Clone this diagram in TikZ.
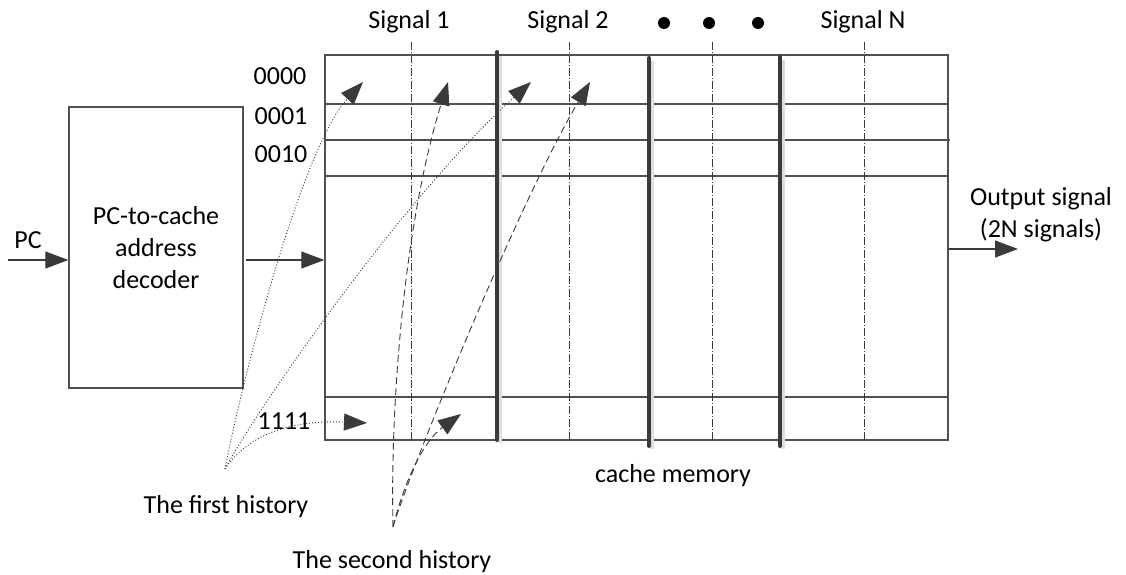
\documentclass[tikz,border=0pt]{standalone}
\usepackage{fontspec}
\setmainfont{Carlito}
\usetikzlibrary{arrows.meta,calc}
\definecolor{ln}{HTML}{505050}
\definecolor{dk}{HTML}{3A3A3A}
\definecolor{sh}{HTML}{DDDDDD}
\tikzset{
  lbl/.style={font=\fontsize{26}{32}\selectfont, inner sep=0pt, text=black},
  box/.style={draw=ln, line width=1.3pt, inner sep=0pt},
  cell/.style={draw=ln, line width=1.3pt},
  thick sep/.style={draw=dk, line width=4pt, line cap=round},
  sep shadow/.style={draw=sh, line width=4pt},
  sigline/.style={draw=dk, line width=0.8pt, dash pattern=on 8pt off 2pt on 1pt off 2pt},
  tipstyle/.style={-{Triangle[length=23pt,width=17pt,fill=dk]}},
  arr/.style={draw=dk, line width=1.2pt, tipstyle},
  firsth/.style={draw=dk, line width=0.9pt, dash pattern=on 1pt off 2pt, tipstyle},
  secondh/.style={draw=dk, line width=0.9pt, dash pattern=on 7pt off 4pt, tipstyle},
  dotmark/.style={circle, fill=black, inner sep=0pt, minimum size=12pt}
}
\begin{document}
\begin{tikzpicture}[x=1pt,y=-1pt]
\useasboundingbox (0,0) rectangle (1126,575);
% cache memory
\node[box, minimum width=623, minimum height=385] (cache) at (636.5,247.5) {};
\draw[cell] (325,104) -- (948,104);
\draw[cell] (325,140) -- (950,140);
\draw[cell] (325,176) -- (948,176);
\draw[cell] (325,397) -- (948,397);
% signal dash-dot lines
\foreach \x in {411,569,712,864} \draw[sigline] (\x,42) -- (\x,440);
% thick separators with shadow
\draw[sep shadow] (500,56) -- (500,443);
\draw[sep shadow] (652,61) -- (652,449);
\draw[sep shadow] (783,60) -- (783,449);
\draw[thick sep] (497,52) -- (497,440);
\draw[thick sep] (649,58) -- (649,446);
\draw[thick sep] (780,57) -- (780,446);
% labels on top
\node[lbl] (s1) at (409,22) {Signal 1};
\node[lbl] (s2) at (568,22) {Signal 2};
\node[lbl] (sn) at (863,22) {Signal N};
\node[dotmark] (d1) at (664,23) {};
\node[dotmark] (d2) at (709,23) {};
\node[dotmark] (d3) at (758,23) {};
% row labels
\node[lbl] (r0) at (280,76) {0000};
\node[lbl] (r1) at (281,116) {0001};
\node[lbl] (r2) at (281,154) {0010};
\node[lbl] (r15) at (284,421) {1111};
% decoder
\node[box, minimum width=174, minimum height=281, align=center, font=\fontsize{26}{32}\selectfont] (dec) at (156,247.5) {PC-to-cache\\address\\decoder};
\node[lbl] (pc) at (28,240) {PC};
\coordinate (pcin) at (8,260);
\draw[arr] (pcin) -- (pcin -| dec.west);
\draw[arr] ($(dec.east)+(2,12.5)$) -- ($(cache.west)+(0,12.5)$);
% output
\coordinate (outp) at (1018,249);
\draw[arr] (outp -| cache.east) -- (outp);
\node[lbl, align=center] (outl) at (1041,215) {Output signal\\(2N signals)};
\node[lbl] (cm) at (673,476) {cache memory};
\node[lbl] (fh) at (226,507) {The first history};
\node[lbl] (shh) at (392,562) {The second history};
% history connectors
\coordinate (h1) at (225,469);
\coordinate (h2) at (393,527);
\coordinate (a1) at (363,82);
\coordinate (a2) at (531,82);
\coordinate (a3) at (367,423);
\coordinate (b1) at (448,82);
\coordinate (b2) at (590,82);
\coordinate (b3) at (461,414);
\draw[firsth] (h1) .. controls (240,390) and (300,150) .. (a1);
\draw[firsth] (h1) .. controls (250,420) and (400,200) .. (a2);
\draw[firsth] (h1) .. controls (250,432) and (295,420) .. (a3);
\draw[secondh] (h2) .. controls (390,400) and (405,220) .. (b1);
\draw[secondh] (h2) .. controls (410,470) and (520,200) .. (b2);
\draw[secondh] (h2) .. controls (405,478) and (425,440) .. (b3);
\end{tikzpicture}
\end{document}
